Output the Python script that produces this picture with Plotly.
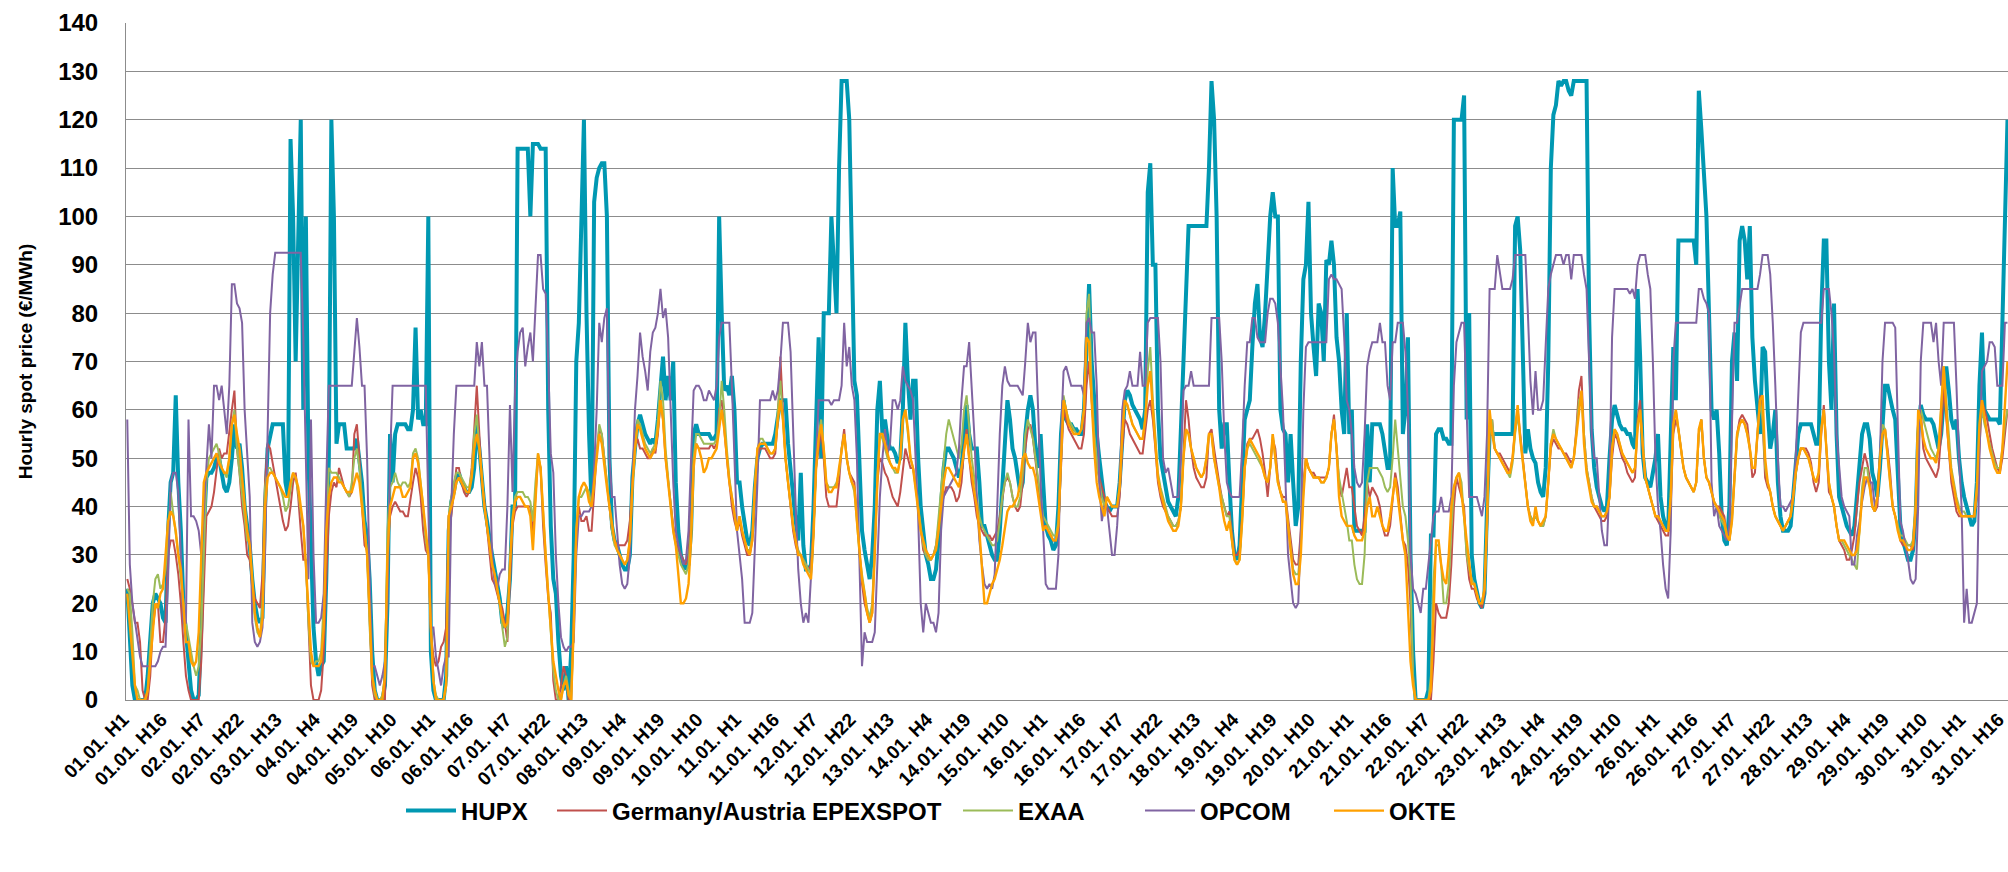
import plotly.graph_objects as go

# Hourly spot prices (EUR/MWh), one line per day (01.01. ... 31.01.); day 31 visible up to H18
HUPX = [
    23, 12, 3, 0, 0, 0, 0, 0, 5, 12, 20, 22, 21, 20, 17, 16, 35, 45, 47, 63, 45, 35, 20, 14,
    8, 2, 0, 0, 1, 15, 35, 46, 47, 47, 48, 50, 50, 47, 44, 43, 45, 50, 57, 52, 53, 48, 40, 36,
    32, 25, 20, 17, 16, 17, 40, 52, 55, 57, 57, 57, 57, 57, 45, 42, 116, 100, 70, 100, 120, 60, 100, 50,
    30, 15, 8, 5, 7, 8, 25, 50, 120, 100, 53, 57, 57, 57, 52, 52, 52, 52, 54, 50, 45, 37, 34, 25,
    10, 2, 0, 0, 0, 3, 20, 55, 45, 55, 57, 57, 57, 57, 56, 56, 60, 77, 58, 60, 57, 57, 100, 10,
    2, 0, 0, 0, 0, 5, 35, 41, 43, 46, 47, 45, 44, 43, 43, 44, 48, 57, 52, 46, 40, 37, 33, 30,
    27, 24, 21, 16, 15, 18, 25, 40, 40, 114, 114, 114, 114, 114, 100, 115, 115, 115, 114, 114, 114, 60, 36, 25,
    22, 12, 5, 2, 7, 0, 10, 30, 70, 78, 100, 120, 80, 55, 40, 103, 108, 110, 111, 111, 100, 50, 36, 33,
    32, 30, 28, 27, 27, 30, 46, 52, 57, 59, 57, 55, 54, 53, 54, 53, 58, 65, 71, 62, 67, 62, 70, 45,
    35, 30, 28, 27, 28, 35, 55, 57, 55, 55, 55, 55, 55, 54, 54, 55, 100, 80, 64, 65, 63, 67, 60, 45,
    45, 40, 36, 33, 32, 35, 44, 50, 52, 53, 53, 53, 53, 53, 55, 58, 62, 62, 62, 53, 47, 43, 37, 33,
    47, 32, 27, 27, 28, 40, 55, 75, 50, 80, 80, 80, 100, 90, 80, 110, 128, 128, 128, 120, 90, 66, 63, 50,
    35, 31, 28, 25, 30, 40, 60, 66, 55, 58, 54, 52, 52, 51, 49, 50, 60, 78, 66, 58, 66, 66, 50, 40,
    35, 30, 28, 25, 25, 27, 33, 40, 48, 52, 52, 51, 50, 48, 46, 48, 55, 61, 55, 52, 52, 52, 45, 36,
    36, 34, 32, 30, 29, 29, 35, 45, 55, 62, 58, 52, 50, 47, 43, 45, 55, 60, 63, 60, 52, 48, 55, 45,
    36, 34, 33, 31, 32, 40, 55, 62, 58, 57, 57, 56, 56, 55, 55, 60, 75, 86, 70, 62, 55, 50, 45, 41,
    40, 39, 40, 40, 40, 45, 55, 62, 64, 63, 61, 60, 59, 58, 56, 60, 105, 111, 90, 90, 60, 50, 47, 44,
    41, 40, 39, 38, 42, 55, 68, 80, 98, 98, 98, 98, 98, 98, 98, 98, 110, 128, 120, 100, 60, 52, 57, 57,
    45, 35, 30, 29, 32, 45, 58, 60, 62, 73, 82, 86, 75, 73, 80, 90, 100, 105, 100, 100, 60, 56, 55, 45,
    55, 45, 36, 40, 70, 87, 90, 103, 80, 73, 67, 82, 80, 70, 91, 90, 95, 90, 75, 70, 60, 55, 80, 55,
    60, 35, 35, 35, 35, 35, 57, 45, 57, 57, 57, 57, 55, 52, 48, 48, 110, 98, 98, 101, 55, 60, 75, 30,
    10, 0, 0, 0, 0, 0, 2, 34, 34, 55, 56, 56, 54, 54, 53, 53, 120, 120, 120, 120, 125, 58, 80, 30,
    25, 22, 20, 19, 22, 40, 55, 55, 55, 55, 55, 55, 55, 55, 55, 55, 98, 100, 93, 75, 51, 56, 52, 50,
    49, 45, 43, 42, 48, 70, 110, 121, 123, 128, 127, 128, 128, 126, 125, 128, 128, 128, 128, 128, 128, 80, 56, 48,
    44, 42, 40, 39, 40, 50, 58, 61, 59, 57, 56, 56, 55, 55, 53, 52, 85, 71, 51, 46, 45, 44, 47, 50,
    55, 42, 38, 36, 35, 55, 73, 62, 95, 95, 95, 95, 95, 95, 95, 90, 126, 118, 108, 100, 80, 60, 58, 60,
    51, 38, 33, 32, 40, 70, 76, 66, 95, 98, 95, 87, 98, 75, 66, 60, 55, 73, 72, 60, 52, 55, 60, 45,
    38, 35, 35, 35, 36, 42, 50, 55, 57, 57, 57, 57, 57, 55, 53, 53, 80, 95, 95, 70, 60, 82, 55, 42,
    40, 38, 36, 35, 34, 36, 42, 50, 55, 57, 57, 54, 47, 45, 42, 48, 57, 65, 65, 62, 60, 58, 45, 36,
    33, 31, 29, 29, 31, 38, 55, 61, 59, 58, 58, 58, 57, 54, 52, 55, 62, 69, 64, 58, 56, 58, 50, 45,
    42, 40, 38, 36, 37, 45, 65, 76, 60, 59, 58, 58, 58, 58, 57, 80, 103, 120,
]

EPEX = [
    25, 23, 20, 16, 16, 12, 2, 0, 0, 5, 15, 19, 20, 12, 12, 17, 30, 33, 33, 30, 26, 20, 12, 5,
    2, 0, 0, 0, 0, 8, 25, 38, 39, 40, 43, 48, 52, 50, 51, 51, 56, 60, 64, 52, 47, 40, 36, 30,
    29, 24, 21, 20, 19, 26, 45, 53, 52, 49, 46, 43, 40, 37, 35, 36, 40, 45, 47, 42, 35, 29, 29, 15,
    3, 0, 0, 0, 2, 10, 25, 38, 43, 45, 44, 48, 46, 44, 43, 42, 43, 55, 57, 50, 40, 32, 31, 15,
    3, 0, 0, 0, 0, 0, 30, 38, 40, 41, 40, 39, 39, 38, 38, 42, 45, 48, 46, 42, 35, 31, 30, 14,
    9, 7, 8, 11, 12, 15, 38, 38, 43, 48, 48, 45, 43, 42, 43, 48, 56, 65, 55, 45, 41, 36, 30, 25,
    24, 22, 20, 19, 16, 12, 25, 36, 39, 40, 40, 40, 40, 40, 40, 34, 41, 50, 48, 36, 28, 21, 18, 4,
    0, 0, 3, 7, 5, 0, 0, 20, 35, 40, 37, 37, 38, 35, 35, 43, 51, 56, 55, 50, 45, 40, 35, 33,
    32, 32, 32, 32, 33, 37, 45, 52, 54, 52, 52, 51, 50, 50, 52, 51, 55, 62, 58, 50, 45, 40, 36, 33,
    31, 30, 29, 28, 30, 38, 50, 53, 52, 52, 52, 52, 52, 53, 52, 53, 60, 62, 55, 50, 45, 40, 37, 35,
    37, 34, 32, 30, 30, 33, 42, 50, 52, 52, 52, 51, 50, 50, 51, 58, 71, 60, 50, 45, 40, 35, 32, 30,
    30, 29, 28, 27, 28, 36, 48, 52, 56, 50, 42, 40, 40, 40, 40, 45, 52, 56, 50, 47, 46, 45, 38, 30,
    24, 20, 18, 16, 18, 30, 45, 50, 49, 47, 46, 44, 42, 41, 40, 43, 48, 52, 50, 48, 48, 45, 40, 35,
    31, 30, 29, 29, 30, 32, 36, 40, 42, 44, 44, 44, 43, 41, 42, 45, 52, 56, 50, 45, 42, 38, 36, 35,
    34, 34, 34, 33, 34, 35, 38, 42, 45, 46, 45, 42, 40, 39, 40, 45, 52, 56, 57, 54, 50, 45, 40, 36,
    36, 35, 34, 33, 33, 36, 48, 60, 58, 56, 55, 54, 53, 52, 52, 55, 65, 70, 62, 55, 48, 46, 44, 42,
    40, 39, 38, 38, 38, 42, 52, 58, 57, 55, 54, 53, 52, 51, 51, 55, 60, 62, 58, 52, 45, 42, 40, 39,
    38, 37, 36, 36, 37, 40, 50, 62, 58, 52, 48, 46, 45, 44, 44, 46, 55, 56, 52, 48, 45, 42, 40, 38,
    39, 35, 30, 30, 31, 38, 48, 53, 54, 54, 55, 56, 54, 51, 47, 42, 48, 54, 52, 46, 43, 42, 42, 38,
    33, 29, 28, 28, 35, 45, 50, 48, 47, 47, 46, 46, 46, 46, 46, 48, 55, 59, 52, 45, 42, 45, 48, 44,
    44, 40, 36, 35, 34, 38, 45, 42, 44, 43, 42, 40, 36, 34, 34, 36, 42, 47, 44, 38, 33, 32, 28, 20,
    5, 0, 0, 0, 0, 0, 0, 0, 8, 20, 18, 17, 17, 17, 20, 28, 40, 46, 44, 42, 40, 30, 25, 23,
    23, 21, 20, 19, 22, 35, 55, 58, 52, 51, 51, 50, 49, 48, 47, 50, 56, 60, 55, 50, 45, 40, 38, 37,
    38, 37, 36, 36, 38, 45, 52, 54, 53, 52, 52, 51, 51, 50, 49, 50, 56, 64, 67, 55, 48, 45, 42, 40,
    39, 38, 37, 37, 38, 42, 50, 55, 54, 52, 50, 49, 47, 46, 45, 46, 58, 62, 52, 46, 44, 42, 40, 38,
    37, 36, 35, 34, 34, 40, 55, 58, 56, 52, 48, 46, 45, 44, 43, 45, 55, 58, 50, 46, 45, 43, 41, 40,
    40, 39, 38, 34, 33, 38, 46, 55, 58, 59, 58, 57, 52, 46, 47, 55, 63, 58, 46, 44, 43, 40, 38, 37,
    36, 35, 36, 37, 38, 42, 47, 50, 52, 52, 52, 51, 49, 45, 43, 45, 55, 61, 52, 43, 42, 40, 36, 33,
    32, 31, 29, 29, 31, 34, 40, 45, 48, 51, 49, 46, 40, 39, 40, 50, 55, 56, 52, 47, 40, 38, 36, 33,
    32, 32, 32, 32, 31, 38, 56, 60, 52, 50, 49, 48, 47, 46, 48, 55, 65, 58, 50, 45, 42, 39, 38, 38,
    38, 38, 38, 38, 38, 42, 52, 62, 60, 58, 55, 52, 50, 48, 47, 50, 55, 60,
]

EXAA = [
    23, 22, 14, 3, 2, 0, 0, 0, 2, 10, 20, 25, 26, 23, 24, 27, 33, 43, 39, 35, 30, 25, 20, 16,
    13, 10, 7, 5, 7, 15, 30, 45, 50, 51, 52, 53, 51, 48, 47, 46, 50, 57, 60, 52, 47, 42, 37, 33,
    33, 23, 17, 14, 13, 20, 44, 48, 48, 47, 46, 45, 44, 42, 39, 40, 44, 47, 46, 43, 39, 36, 28, 16,
    8, 7, 8, 8, 10, 20, 35, 48, 47, 47, 47, 46, 45, 44, 43, 42, 45, 50, 52, 48, 42, 36, 30, 15,
    5, 1, 0, 0, 1, 5, 35, 44, 45, 47, 45, 44, 45, 45, 44, 45, 51, 52, 50, 45, 40, 33, 30, 15,
    4, 1, 0, 0, 0, 4, 38, 42, 45, 47, 47, 46, 45, 44, 44, 47, 55, 59, 52, 45, 40, 36, 32, 28,
    26, 23, 20, 15, 11, 13, 28, 38, 42, 43, 43, 43, 42, 42, 41, 37, 45, 51, 48, 38, 30, 22, 15, 6,
    2, 0, 0, 3, 5, 2, 0, 15, 35, 42, 42, 43, 44, 43, 40, 45, 52, 57, 55, 50, 45, 40, 35, 32,
    31, 30, 29, 28, 29, 33, 44, 52, 58, 57, 55, 53, 52, 51, 52, 53, 58, 66, 62, 52, 46, 40, 35, 32,
    30, 28, 27, 26, 28, 35, 50, 55, 55, 54, 53, 53, 53, 53, 53, 54, 58, 66, 60, 52, 46, 42, 38, 35,
    38, 35, 33, 31, 31, 34, 44, 52, 54, 54, 53, 52, 51, 51, 52, 60, 66, 58, 50, 45, 40, 36, 33, 31,
    30, 29, 28, 27, 26, 35, 48, 55, 58, 52, 45, 44, 44, 44, 45, 47, 52, 55, 50, 47, 45, 43, 37, 30,
    26, 22, 19, 17, 20, 32, 46, 55, 54, 52, 50, 49, 48, 47, 47, 50, 58, 60, 55, 50, 48, 44, 40, 35,
    32, 30, 29, 29, 30, 32, 38, 44, 50, 55, 58, 56, 54, 52, 50, 53, 60, 63, 57, 50, 46, 42, 38, 36,
    35, 34, 33, 32, 32, 33, 37, 42, 45, 47, 45, 42, 40, 40, 42, 47, 55, 58, 56, 54, 50, 46, 42, 38,
    37, 36, 35, 34, 34, 37, 50, 63, 60, 58, 57, 56, 55, 55, 56, 60, 80, 84, 65, 55, 50, 45, 42, 40,
    42, 41, 40, 40, 40, 44, 55, 62, 61, 59, 57, 56, 55, 54, 54, 58, 68, 73, 62, 54, 47, 44, 42, 40,
    38, 37, 36, 36, 37, 40, 50, 56, 55, 52, 50, 48, 47, 46, 47, 50, 55, 55, 50, 47, 44, 42, 40, 38,
    38, 33, 29, 28, 29, 37, 48, 52, 53, 52, 51, 50, 49, 48, 46, 45, 48, 55, 50, 45, 43, 41, 41, 36,
    31, 27, 26, 26, 32, 43, 50, 48, 47, 46, 46, 46, 45, 45, 46, 48, 55, 58, 52, 46, 43, 40, 37, 33,
    33, 28, 25, 24, 24, 30, 45, 48, 48, 48, 48, 47, 46, 44, 43, 44, 50, 58, 52, 45, 40, 38, 33, 25,
    5, 0, 0, 0, 0, 0, 0, 5, 25, 32, 32, 28, 20, 20, 24, 35, 44, 46, 47, 45, 38, 30, 27, 25,
    24, 22, 20, 20, 23, 36, 55, 58, 52, 51, 50, 49, 48, 47, 46, 49, 55, 59, 54, 50, 45, 40, 38, 37,
    38, 37, 36, 36, 38, 45, 53, 56, 54, 53, 52, 51, 50, 49, 48, 50, 55, 62, 63, 55, 48, 45, 42, 40,
    40, 39, 38, 38, 39, 42, 52, 56, 55, 53, 51, 50, 49, 48, 47, 48, 57, 60, 52, 46, 44, 42, 40, 38,
    38, 37, 36, 35, 35, 42, 57, 60, 56, 52, 48, 46, 45, 44, 43, 45, 55, 58, 50, 46, 45, 43, 41, 40,
    38, 37, 36, 34, 33, 37, 45, 54, 57, 58, 57, 55, 52, 48, 48, 55, 62, 58, 48, 45, 43, 40, 38, 37,
    36, 35, 36, 37, 38, 42, 47, 50, 52, 52, 51, 50, 48, 46, 45, 47, 56, 60, 52, 45, 42, 40, 36, 33,
    33, 32, 31, 30, 29, 28, 27, 35, 44, 48, 48, 44, 40, 39, 42, 50, 57, 56, 50, 45, 40, 38, 36, 34,
    34, 33, 32, 32, 33, 40, 58, 60, 58, 56, 54, 52, 51, 50, 52, 60, 69, 62, 55, 48, 45, 42, 40, 39,
    39, 38, 38, 38, 38, 43, 55, 60, 57, 55, 53, 51, 49, 48, 48, 52, 57, 60,
]

OPCOM = [
    58, 28, 20, 16, 12, 9, 7, 7, 7, 7, 7, 7, 8, 10, 11, 11, 25, 45, 47, 47, 43, 30, 16, 16,
    58, 38, 38, 37, 35, 30, 38, 48, 57, 50, 65, 65, 62, 65, 60, 55, 65, 86, 86, 82, 81, 78, 60, 50,
    42, 16, 12, 11, 12, 15, 30, 55, 80, 88, 92.5, 92.5, 92.5, 92.5, 92.5, 92.5, 92.5, 92.5, 92.5, 92.5, 92.5, 75, 50, 25,
    58, 30, 16, 16, 17, 22, 45, 65, 65, 65, 65, 65, 65, 65, 65, 65, 65, 72, 79, 73, 65, 65, 50, 25,
    7, 7, 5, 3, 5, 8, 20, 50, 65, 65, 65, 65, 65, 65, 65, 65, 65, 65, 65, 65, 65, 65, 40, 15,
    15, 9, 6, 3, 7, 9, 9, 40, 55, 65, 65, 65, 65, 65, 65, 65, 65, 74, 69, 74, 65, 65, 50, 30,
    24, 23, 26, 27, 27, 40, 61, 43, 64, 72, 76, 77, 69, 73, 76, 70, 80, 92, 92, 85, 84, 70, 51, 47,
    30, 20, 13, 11, 10, 11, 11, 12, 30, 38, 38, 39, 39, 39, 40, 48, 60, 78, 74, 79, 81, 50, 42, 42,
    35, 28, 24, 23, 24, 30, 45, 60, 67, 76, 71, 68, 64, 72, 76, 77, 80, 85, 79, 81, 75, 58, 45, 35,
    32, 30, 28, 29, 35, 50, 64, 65, 65, 64, 62, 62, 64, 63, 62, 65, 75, 78, 78, 78, 78, 65, 50, 35,
    30, 25, 16, 16, 16, 18, 30, 45, 62, 62, 62, 62, 62, 64, 62, 64, 70, 78, 78, 78, 72, 55, 40, 27,
    20, 16, 18, 16, 25, 35, 50, 62, 62, 62, 62, 62, 61, 62, 62, 62, 65, 78, 69, 73, 65, 62, 50, 25,
    7, 14, 12, 12, 12, 14, 30, 42, 50, 56, 51, 53, 62, 62, 60, 62, 69, 66, 65, 64, 62, 50, 38, 20,
    14, 20, 18, 16, 16, 14, 18, 35, 42, 43, 44, 45, 46, 47, 52, 62, 69, 69, 74, 65, 55, 42, 33, 28,
    24, 23, 24, 23, 26, 40, 55, 65, 69, 66, 65, 65, 65, 65, 64, 63, 70, 78, 74, 76, 76, 60, 45, 35,
    24, 23, 23, 23, 23, 30, 55, 68, 69, 67, 65, 65, 65, 65, 65, 63, 78, 79, 76, 76, 65, 45, 37, 40,
    40, 35, 30, 30, 36, 45, 60, 64, 65, 68, 65, 65, 65, 72, 65, 65, 78, 79, 79, 79, 79, 70, 50, 47,
    48, 45, 42, 42, 42, 50, 64, 65, 65, 68, 65, 65, 65, 65, 65, 65, 65, 79, 79, 79, 79, 70, 55, 45,
    43, 42, 42, 42, 42, 52, 65, 74, 74, 79, 79, 75, 74, 74, 74, 80, 83, 83, 82, 78, 70, 60, 45, 30,
    25, 20, 19, 20, 35, 60, 73, 74, 74, 74, 74, 74, 74, 74, 74, 87, 88, 87, 87, 86, 85, 75, 62, 60,
    55, 48, 45, 44, 45, 55, 69, 72, 74, 74, 74, 78, 74, 74, 65, 62, 74, 74, 78, 78, 78, 72, 60, 30,
    23, 22, 20, 18, 23, 23, 28, 33, 38, 39, 39, 42, 39, 39, 39, 42, 65, 74, 76, 78, 78, 60, 42, 42,
    42, 42, 40, 38, 42, 55, 85, 85, 85, 92, 88, 85, 85, 85, 85, 87, 92, 92, 92, 92, 92, 80, 66, 59,
    68, 60, 60, 62, 75, 85, 88, 90, 92, 92, 92, 90, 92, 92, 87, 92, 92, 92, 92, 88, 85, 70, 55, 50,
    50, 42, 35, 32, 32, 45, 75, 85, 85, 85, 85, 85, 85, 84, 85, 83, 90, 92, 92, 92, 88, 85, 70, 50,
    40, 35, 28, 23, 21, 35, 70, 78, 78, 78, 78, 78, 78, 78, 78, 78, 85, 85, 83, 82, 80, 45, 38, 40,
    36, 35, 34, 33, 36, 55, 78, 78, 82, 85, 85, 85, 85, 85, 85, 85, 88, 92, 92, 92, 88, 78, 65, 50,
    40, 40, 39, 40, 41, 42, 50, 65, 76, 78, 78, 78, 78, 78, 78, 78, 78, 85, 85, 85, 80, 72, 55, 48,
    42, 40, 39, 38, 28, 28, 34, 37, 41, 44, 46, 45, 45, 40, 42, 50, 70, 78, 78, 78, 78, 77, 55, 37,
    35, 32, 29, 25, 24, 25, 40, 70, 78, 78, 78, 78, 74, 78, 70, 65, 78, 78, 78, 78, 78, 65, 50, 40,
    16, 23, 16, 16, 18, 20, 50, 68, 69, 70, 74, 74, 73, 65, 65, 65, 78, 78,
]

OKTE = [
    22, 15, 8, 3, 0, 0, 0, 0, 2, 8, 15, 20, 19, 22, 23, 30, 37, 39, 38, 35, 30, 27, 20, 12,
    12, 8, 7, 8, 14, 30, 45, 47, 48, 49, 50, 51, 49, 48, 47, 47, 50, 57, 59, 55, 52, 46, 40, 35,
    32, 24, 18, 15, 13, 17, 40, 46, 47, 47, 46, 45, 44, 43, 42, 42, 45, 47, 46, 44, 40, 36, 28, 18,
    10, 7, 7, 7, 8, 15, 35, 42, 45, 46, 46, 45, 45, 44, 43, 43, 43, 45, 47, 45, 40, 35, 30, 18,
    5, 2, 0, 0, 0, 5, 30, 40, 42, 44, 44, 44, 42, 42, 43, 44, 50, 51, 49, 45, 40, 35, 30, 15,
    4, 0, 0, 0, 0, 3, 38, 40, 42, 45, 46, 45, 44, 43, 43, 46, 52, 55, 52, 45, 40, 36, 32, 28,
    26, 23, 20, 17, 15, 16, 28, 37, 41, 42, 42, 41, 40, 40, 38, 31, 42, 51, 48, 38, 30, 22, 15, 8,
    5, 2, 0, 3, 4, 1, 0, 15, 35, 42, 44, 45, 44, 41, 40, 45, 50, 55, 53, 48, 44, 40, 36, 33,
    31, 30, 29, 28, 29, 33, 44, 52, 57, 56, 54, 52, 51, 50, 51, 52, 56, 62, 58, 50, 45, 40, 35, 32,
    25, 20, 20, 21, 24, 33, 48, 53, 52, 50, 47, 48, 50, 50, 51, 52, 56, 60, 56, 50, 45, 42, 38, 35,
    38, 35, 33, 31, 30, 33, 44, 52, 53, 53, 53, 52, 51, 51, 52, 58, 62, 58, 50, 45, 40, 36, 33, 30,
    30, 28, 27, 26, 25, 34, 48, 54, 57, 52, 45, 43, 43, 44, 44, 48, 52, 55, 50, 47, 45, 44, 37, 30,
    25, 22, 18, 16, 18, 30, 45, 55, 55, 53, 51, 49, 48, 48, 47, 50, 58, 60, 56, 50, 48, 44, 40, 35,
    33, 31, 30, 29, 30, 31, 35, 40, 45, 48, 48, 47, 46, 45, 44, 48, 52, 55, 50, 47, 43, 40, 35, 28,
    20, 20, 22, 24, 25, 27, 29, 32, 36, 39, 40, 40, 41, 42, 45, 50, 51, 49, 48, 48, 46, 42, 38, 35,
    36, 35, 34, 33, 33, 36, 50, 62, 60, 57, 56, 55, 55, 55, 56, 60, 75, 74, 62, 52, 45, 42, 40, 38,
    42, 41, 40, 40, 40, 44, 55, 62, 61, 59, 57, 56, 55, 54, 54, 58, 65, 68, 60, 53, 46, 43, 41, 39,
    37, 36, 35, 35, 36, 40, 50, 56, 55, 52, 50, 48, 47, 46, 47, 50, 55, 55, 50, 47, 44, 40, 37, 35,
    37, 33, 29, 28, 29, 37, 48, 52, 54, 53, 52, 51, 50, 48, 46, 45, 48, 55, 50, 45, 43, 41, 41, 36,
    30, 26, 24, 24, 30, 42, 50, 48, 47, 46, 46, 46, 45, 45, 46, 48, 55, 58, 52, 42, 38, 37, 36, 36,
    36, 34, 33, 33, 33, 35, 40, 42, 38, 38, 40, 38, 36, 35, 35, 38, 42, 46, 42, 37, 33, 30, 20, 8,
    3, 0, 0, 0, 0, 0, 0, 2, 20, 33, 33, 28, 25, 24, 30, 40, 44, 46, 47, 43, 38, 33, 28, 24,
    24, 22, 20, 20, 23, 38, 60, 55, 52, 51, 50, 49, 48, 47, 47, 50, 56, 61, 54, 49, 44, 40, 37, 36,
    40, 37, 36, 37, 38, 45, 53, 55, 54, 53, 52, 51, 50, 49, 48, 50, 55, 60, 64, 53, 47, 44, 41, 40,
    40, 39, 38, 38, 39, 42, 52, 56, 55, 53, 51, 50, 49, 48, 47, 48, 56, 60, 52, 46, 44, 42, 40, 38,
    38, 37, 36, 35, 35, 42, 57, 60, 56, 52, 48, 46, 45, 44, 43, 45, 56, 58, 50, 46, 45, 43, 41, 40,
    39, 38, 37, 34, 33, 37, 46, 55, 57, 58, 57, 55, 52, 48, 48, 55, 62, 63, 50, 45, 43, 40, 38, 37,
    36, 35, 36, 37, 38, 42, 47, 50, 52, 52, 51, 50, 48, 46, 45, 47, 56, 60, 52, 45, 42, 40, 36, 33,
    33, 33, 32, 31, 30, 30, 31, 35, 42, 46, 46, 44, 40, 39, 42, 50, 55, 56, 50, 45, 40, 38, 35, 33,
    33, 32, 31, 31, 32, 40, 60, 58, 54, 52, 51, 50, 50, 49, 52, 60, 69, 60, 52, 47, 44, 41, 39, 38,
    38, 38, 38, 38, 38, 44, 57, 62, 58, 55, 52, 50, 48, 47, 47, 52, 62, 70,
]

for _name, _vals in (("HUPX", HUPX), ("EPEX", EPEX), ("EXAA", EXAA), ("OPCOM", OPCOM), ("OKTE", OKTE)):
    assert len(_vals) == 738, (_name, len(_vals))

# category axis: every hour of January, ticks labelled every 15 hours
hours = [f"{d:02d}.01. H{h}" for d in range(1, 32) for h in range(1, 25)]
tick_labels = hours[::15]

series = [
    ("HUPX", HUPX, "#0098B2", 4.0),
    ("Germany/Austria EPEXSPOT", EPEX, "#C0504D", 2.0),
    ("EXAA", EXAA, "#9BBB59", 2.0),
    ("OPCOM", OPCOM, "#8064A2", 2.0),
    ("OKTE", OKTE, "#FFA000", 2.4),
]

W, H = 2008, 872
L, R, T, B = 126, 0, 23, 172
plot_w = W - L - R
plot_h = H - T - B

# pixel x where each legend entry's text starts, and legend centre line (px from top)
legend_text_px = [461, 612, 1018, 1200, 1389]
legend_y_px = 811
ITEM_W = 50

fig = go.Figure()
legend_names = ["legend", "legend2", "legend3", "legend4", "legend5"]
for (name, vals, color, width), lg in zip(series, legend_names):
    fig.add_trace(go.Scatter(
        x=hours[:len(vals)], y=vals, mode="lines", name=name,
        line=dict(color=color, width=width), legend=lg,
    ))

font_family = "Arial, Liberation Sans, sans-serif"
legend_font = dict(family=font_family, size=24, color="black", weight="bold")
layout_legends = {}
for lg, tx in zip(legend_names, legend_text_px):
    layout_legends[lg] = dict(
        x=(tx - ITEM_W - 10 - L) / plot_w, xanchor="left",
        y=(T + plot_h - legend_y_px) / plot_h, yanchor="middle",
        orientation="h", font=legend_font, bgcolor="rgba(0,0,0,0)",
        borderwidth=0, itemwidth=ITEM_W,
    )

fig.update_layout(
    width=W, height=H,
    margin=dict(l=L, r=R, t=T, b=B, pad=0, autoexpand=False),
    paper_bgcolor="white", plot_bgcolor="white",
    showlegend=True,
    **layout_legends,
    xaxis=dict(
        type="category", categoryorder="array", categoryarray=hours,
        range=[-0.5, 737.2], automargin=False,
        tickmode="array", tickvals=tick_labels, ticktext=tick_labels,
        tickangle=-45, ticklabelshift=-4,
        tickfont=dict(family=font_family, size=19, color="black", weight="bold"),
        showgrid=False, showline=True, linecolor="#8C8C8C", linewidth=1,
        zeroline=False, ticks="",
    ),
    yaxis=dict(
        range=[0, 140], tickmode="linear", tick0=0, dtick=10, automargin=False,
        showgrid=True, gridcolor="#8C8C8C", gridwidth=1,
        showline=True, linecolor="#8C8C8C", linewidth=1,
        zeroline=False,
        ticks="outside", ticklen=22, tickcolor="rgba(0,0,0,0)",
        tickfont=dict(family=font_family, size=24, color="black", weight="bold"),
        title=dict(text="Hourly spot price (€/MWh)", standoff=20,
                   font=dict(family=font_family, size=19, color="black", weight="bold")),
    ),
)

# the page body's default 8px margin would shift and clip the fixed-size figure
fig.write_html(
    "out.html",
    config={"displayModeBar": False},
    post_script="document.body.style.margin='0';",
)
